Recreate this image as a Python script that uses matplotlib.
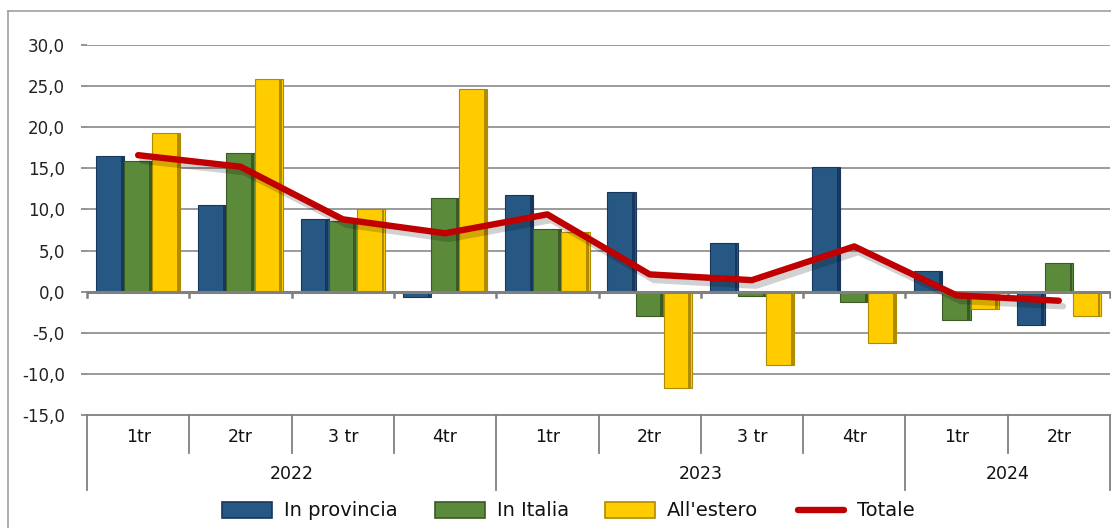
import matplotlib
matplotlib.use("Agg")
import matplotlib.pyplot as plt
import matplotlib.patheffects as pe
from matplotlib.patches import Rectangle
from matplotlib.lines import Line2D
import numpy as np

quarters = ["1tr", "2tr", "3 tr", "4tr", "1tr", "2tr", "3 tr", "4tr", "1tr", "2tr"]
years = ["2022", "2023", "2024"]
year_spans = [(0, 3), (4, 7), (8, 9)]
in_provincia = [16.5, 10.6, 8.8, -0.6, 11.7, 12.1, 5.9, 15.2, 2.5, -4.0]
in_italia = [15.9, 16.9, 8.6, 11.4, 7.6, -3.0, -0.55, -1.3, -3.4, 3.5]
all_estero = [19.3, 25.9, 10.1, 24.7, 7.3, -11.7, -8.9, -6.25, -2.15, -2.9]
totale = [16.6, 15.2, 8.8, 7.1, 9.4, 2.1, 1.4, 5.5, -0.45, -1.1]
yticks = [30, 25, 20, 15, 10, 5, 0, -5, -10, -15]

font = "DejaVu Sans"

W, H = 1111, 528
fig = plt.figure(figsize=(W / 100, H / 100), dpi=100)
ax_left, ax_right, ax_top, ax_bot = 87, 1110, 45, 415
ax = fig.add_axes([ax_left / W, 1 - ax_bot / H, (ax_right - ax_left) / W, (ax_bot - ax_top) / H])

n = len(quarters)
x = np.arange(n)
bw = 0.275
cols = ["#265883", "#5B8A3B", "#FFCC00"]
darks = ["#17375E", "#3B5A25", "#B08A00"]
series = [in_provincia, in_italia, all_estero]
for i, (vals, c, d) in enumerate(zip(series, cols, darks)):
    xs = x + (i - 1) * bw
    ax.bar(xs, vals, width=bw, color=c, edgecolor=d, linewidth=0.8, zorder=3)
    ax.bar(xs + bw * 0.43, vals, width=bw * 0.1, color=d, linewidth=0, zorder=3.5)

ax.plot(x, totale, color="#C00000", lw=4.6, solid_capstyle="round", zorder=5,
        path_effects=[pe.SimpleLineShadow(offset=(3, -4), alpha=0.18, shadow_color="black"), pe.Normal()])

ax.set_xlim(-0.5, n - 0.5)
ax.set_ylim(-15, 30)
ax.set_yticks(yticks)
ax.set_yticklabels([f"{v:.1f}".replace(".", ",") for v in yticks], fontsize=12, color="#222222")
ax.tick_params(axis="y", length=4, color="#808080", width=1.2, pad=12)
ax.set_xticks([])
for s in ax.spines.values():
    s.set_visible(False)
for v in yticks[:-1]:
    ax.axhline(v, color="#808080", lw=2.2 if v == 0 else 1.1, zorder=2 if v != 0 else 4)

for b in np.arange(-0.5, n, 1.0):
    ax.plot([b, b], [0, -0.7], color="#808080", lw=1.8, zorder=4, clip_on=False)

axh = ax_bot - ax_top
tr = ax.get_xaxis_transform()
ax.plot([-0.5, n - 0.5], [0, 0], transform=tr, color="#808080", lw=1.3, clip_on=False)
year_bounds = [-0.5] + [e + 0.5 for _, e in year_spans]
for b in np.arange(-0.5, n, 1.0):
    depth = 75 if any(abs(b - yb) < 1e-9 for yb in year_bounds) else 38
    ax.plot([b, b], [0, -depth / axh], transform=tr, color="#808080", lw=1.3, clip_on=False)
for xi, q in zip(x, quarters):
    ax.text(xi, -22 / axh, q, transform=tr, ha="center", va="center", fontsize=12.5,
            family=font, color="#111111")
for yname, (s, e) in zip(years, year_spans):
    ax.text((s + e) / 2, -59 / axh, yname, transform=tr, ha="center", va="center", fontsize=12.5,
            family=font, color="#111111")

fig.add_artist(Line2D([8 / W, 8 / W], [0, 1 - 11 / H], color="#A0A0A0", lw=1.2))
fig.add_artist(Line2D([8 / W, 1], [1 - 11 / H, 1 - 11 / H], color="#A0A0A0", lw=1.2))

ly = 510
items = [(222, 284, "In provincia", "patch", cols[0], darks[0]),
         (435, 497, "In Italia", "patch", cols[1], darks[1]),
         (605, 667, "All'estero", "patch", cols[2], darks[2]),
         (795, 857, "Totale", "line", "#C00000", None)]
for px, tx, label, kind, c, d in items:
    if kind == "patch":
        fig.add_artist(Rectangle((px / W, 1 - (ly + 8) / H), 50 / W, 16 / H,
                                 facecolor=c, edgecolor=d, lw=1.2))
    else:
        fig.add_artist(Line2D([(px + 3) / W, (px + 49) / W], [1 - ly / H, 1 - ly / H],
                              color=c, lw=4.6, solid_capstyle="round"))
    fig.text(tx / W, 1 - ly / H, label, ha="left", va="center", fontsize=14,
             family=font, color="#111111")

fig.savefig("out.png", dpi=100)
